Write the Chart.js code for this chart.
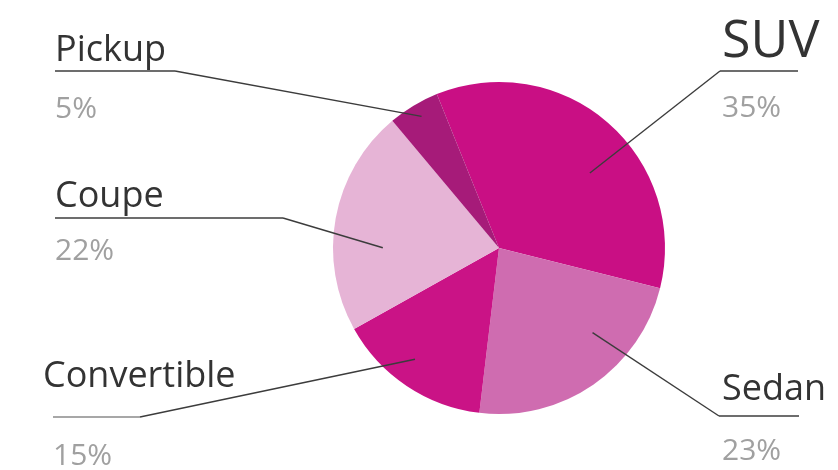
<!DOCTYPE html>
<html>
<head>
<meta charset="utf-8">
<script src="https://cdn.jsdelivr.net/npm/chart.js@4/dist/chart.umd.min.js"></script>
<style>
  html, body { margin: 0; padding: 0; background: #ffffff; }
  #wrap { width: 838px; height: 470px; }
</style>
</head>
<body>
<div id="wrap"><canvas id="chart" width="838" height="470"></canvas></div>
<script>
// Vehicle mix by body type (share of sales, %)
const categories = ['SUV', 'Sedan', 'Convertible', 'Coupe', 'Pickup'];
const shares = [35, 23, 15, 22, 5];
const sliceColors = ['#c90f84', '#cf6cb0', '#ca1386', '#e6b4d6', '#a61b79'];

// Callout layout for each slice: text position, underline, and where the
// leader line lands inside the slice (fraction of the slice's sweep, fraction of radius).
const callouts = [
  { x: 722, nameY: 57,  pctY: 117, size: 52, line: [720, 798, 71],  elbow: 720, anchor: [0.575, 0.71], lineColor: '#3c3c3c' },
  { x: 722, nameY: 400, pctY: 460, size: 36, line: [719, 799, 416], elbow: 719, anchor: [0.34, 0.76],  lineColor: '#3c3c3c' },
  { x: 43,  nameY: 387, pctY: 465, size: 36, line: [53, 140, 417],  elbow: 140, anchor: [0.56, 0.84],  lineColor: '#8a8a8a' },
  { x: 55,  nameY: 207, pctY: 260, size: 36, line: [55, 283, 218],  elbow: 283, anchor: [0.37, 0.70],  lineColor: '#3c3c3c' },
  { x: 55,  nameY: 61,  pctY: 118, size: 36, line: [55, 175, 71],   elbow: 175, anchor: [0.53, 0.92],  lineColor: '#3c3c3c' }
];

const calloutPlugin = {
  id: 'callouts',
  afterDatasetsDraw(chart) {
    const ctx = chart.ctx;
    const arcs = chart.getDatasetMeta(0).data;
    ctx.save();
    arcs.forEach((arc, i) => {
      const c = callouts[i];
      const p = arc.getProps(['x', 'y', 'startAngle', 'endAngle', 'outerRadius'], true);
      const a = p.startAngle + c.anchor[0] * (p.endAngle - p.startAngle);
      const r = c.anchor[1] * p.outerRadius;
      const ax = p.x + r * Math.cos(a);
      const ay = p.y + r * Math.sin(a);

      // underline
      ctx.lineWidth = 1.6;
      ctx.strokeStyle = c.lineColor;
      ctx.beginPath();
      ctx.moveTo(c.line[0], c.line[2]);
      ctx.lineTo(c.line[1], c.line[2]);
      ctx.stroke();

      // leader into the slice
      ctx.strokeStyle = '#3c3c3c';
      ctx.lineWidth = 1.4;
      ctx.beginPath();
      ctx.moveTo(c.elbow, c.line[2]);
      ctx.lineTo(ax, ay);
      ctx.stroke();

      // category name
      ctx.textBaseline = 'alphabetic';
      ctx.textAlign = 'left';
      ctx.fillStyle = '#333333';
      ctx.font = c.size + 'px "Open Sans", "DejaVu Sans", sans-serif';
      ctx.fillText(categories[i], c.x, c.nameY);

      // share value
      ctx.fillStyle = '#a0a0a0';
      ctx.font = '30px "Open Sans", "DejaVu Sans", sans-serif';
      ctx.fillText(shares[i] + '%', c.x + (i === 2 ? 10 : 0), c.pctY);
    });
    ctx.restore();
  }
};

new Chart(document.getElementById('chart'), {
  type: 'pie',
  data: {
    labels: categories,
    datasets: [{
      data: shares,
      backgroundColor: sliceColors,
      borderWidth: 0
    }]
  },
  options: {
    responsive: false,
    animation: false,
    rotation: -22,
    layout: { padding: { left: 333, right: 173, top: 82, bottom: 56 } },
    plugins: {
      legend: { display: false },
      tooltip: { enabled: false }
    }
  },
  plugins: [calloutPlugin]
});
</script>
</body>
</html>
